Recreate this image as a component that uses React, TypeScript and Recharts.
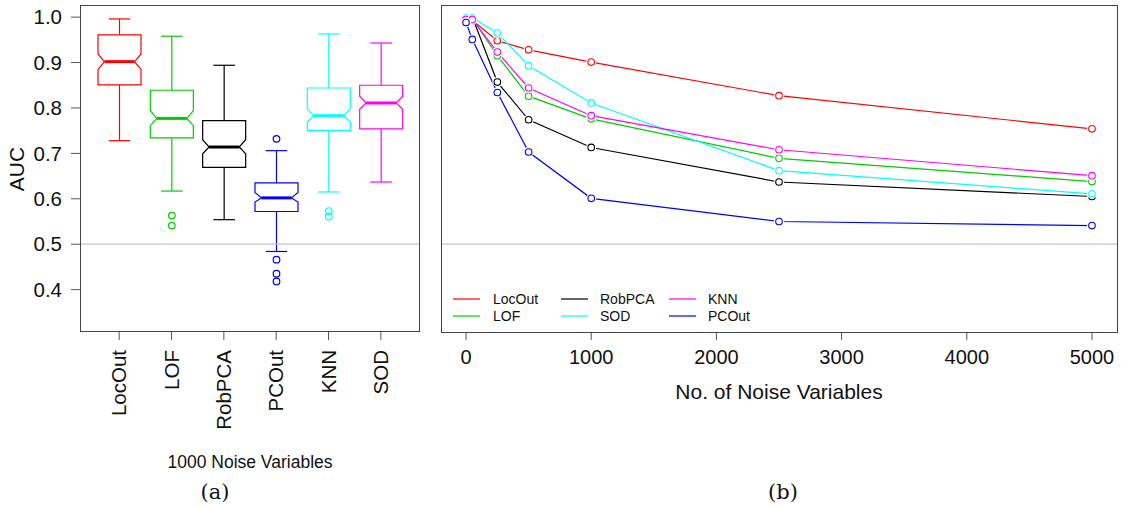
import { ComposedChart, Bar, XAxis, YAxis, ReferenceLine, LineChart, Line } from 'recharts';

const FONT = '"Liberation Sans", Arial, Helvetica, sans-serif';

// panel (a): boxplots at 1000 noise variables
const methods = ['LocOut', 'LOF', 'RobPCA', 'PCOut', 'KNN', 'SOD'];
const boxColors = ['#ff0000', '#00cd00', '#000000', '#0000ff', '#00ffff', '#ff00ff'];
const whiskerLow = [0.728, 0.617, 0.554, 0.484, 0.615, 0.637];
const q1 = [0.851, 0.734, 0.669, 0.572, 0.75, 0.754];
const notchLow = [0.885, 0.761, 0.699, 0.593, 0.769, 0.797];
const median = [0.902, 0.777, 0.714, 0.602, 0.783, 0.811];
const notchHigh = [0.919, 0.794, 0.73, 0.614, 0.798, 0.826];
const q3 = [0.961, 0.839, 0.772, 0.635, 0.844, 0.85];
const whiskerHigh = [0.996, 0.958, 0.894, 0.706, 0.963, 0.943];
const outliers: number[][] = [[], [0.563, 0.541], [], [0.732, 0.466, 0.435, 0.418], [0.573, 0.561], []];
const aucTicks = [0.4, 0.5, 0.6, 0.7, 0.8, 0.9, 1.0];

// panel (b): median AUC vs number of noise variables
const noiseVars = [0, 50, 250, 500, 1000, 2500, 5000];
const locOut = [0.995, 0.993, 0.948, 0.928, 0.901, 0.827, 0.754];
const lof = [0.997, 0.997, 0.915, 0.826, 0.776, 0.689, 0.638];
const robPca = [1.0, 1.0, 0.857, 0.774, 0.713, 0.637, 0.605];
const sod = [0.999, 0.999, 0.965, 0.893, 0.811, 0.662, 0.611];
const knn = [0.995, 0.995, 0.923, 0.844, 0.783, 0.708, 0.651];
const pcOut = [0.988, 0.951, 0.834, 0.703, 0.601, 0.55, 0.541];
const noiseTicks = [0, 1000, 2000, 3000, 4000, 5000];

const series = [
  { key: 'LocOut', color: '#ff0000', values: locOut },
  { key: 'LOF', color: '#00cd00', values: lof },
  { key: 'RobPCA', color: '#000000', values: robPca },
  { key: 'SOD', color: '#00ffff', values: sod },
  { key: 'KNN', color: '#ff00ff', values: knn },
  { key: 'PCOut', color: '#0000ff', values: pcOut },
];
const legendCols = [['LocOut', 'LOF'], ['RobPCA', 'SOD'], ['KNN', 'PCOut']];

const Y_DOMAIN: [number, number] = [0.3067, 1.0267];

const boxData = methods.map((name, i) => ({
  name,
  color: boxColors[i],
  wl: whiskerLow[i],
  q1: q1[i],
  nl: notchLow[i],
  med: median[i],
  nh: notchHigh[i],
  q3: q3[i],
  wh: whiskerHigh[i],
  out: outliers[i],
  range: [Math.min(whiskerLow[i], ...outliers[i]), Math.max(whiskerHigh[i], ...outliers[i])],
}));

const lineData = noiseVars.map((n, i) => {
  const row: Record<string, number> = { n };
  series.forEach((s) => (row[s.key] = s.values[i]));
  return row;
});

function BoxShape(props: any) {
  const { x, y, width, height, payload } = props;
  const [lo, hi] = payload.range;
  const top = Math.min(y, y + height);
  const h = Math.abs(height);
  const py = (v: number) => top + ((hi - v) / (hi - lo)) * h;
  const cx = x + width / 2;
  const half = width / 2;
  const inset = half * 0.7;
  const c = payload.color;
  const pts = [
    [cx - half, py(payload.q1)],
    [cx - half, py(payload.nl)],
    [cx - inset, py(payload.med)],
    [cx - half, py(payload.nh)],
    [cx - half, py(payload.q3)],
    [cx + half, py(payload.q3)],
    [cx + half, py(payload.nh)],
    [cx + inset, py(payload.med)],
    [cx + half, py(payload.nl)],
    [cx + half, py(payload.q1)],
  ]
    .map((p) => p.join(','))
    .join(' ');
  return (
    <g stroke={c} fill="none" strokeWidth={1.2}>
      <line x1={cx} x2={cx} y1={py(payload.q1)} y2={py(payload.wl)} />
      <line x1={cx} x2={cx} y1={py(payload.q3)} y2={py(payload.wh)} />
      <line x1={cx - half / 2} x2={cx + half / 2} y1={py(payload.wl)} y2={py(payload.wl)} />
      <line x1={cx - half / 2} x2={cx + half / 2} y1={py(payload.wh)} y2={py(payload.wh)} />
      <polygon points={pts} />
      <line x1={cx - inset} x2={cx + inset} y1={py(payload.med)} y2={py(payload.med)} strokeWidth={3} />
      {payload.out.map((v: number, k: number) => (
        <circle key={k} cx={cx} cy={py(v)} r={3.3} />
      ))}
    </g>
  );
}

function RotTick(props: any) {
  const { x, y, payload } = props;
  return (
    <text
      x={x}
      y={y}
      transform={`rotate(-90 ${x} ${y})`}
      textAnchor="end"
      dy="0.35em"
      fontSize={20.5}
      fill="#111"
      fontFamily={FONT}
    >
      {payload.value}
    </text>
  );
}

function makeDot(color: string) {
  return (p: any) => (
    <g key={`${color}-${p.index}`}>
      <circle cx={p.cx} cy={p.cy} r={5} fill="#fff" stroke="none" />
      <circle cx={p.cx} cy={p.cy} r={3.3} fill="none" stroke={color} strokeWidth={1.1} />
    </g>
  );
}

const abs = (left: number, top: number, extra: any = {}) => ({ position: 'absolute' as const, left, top, ...extra });

export default function App() {
  return (
    <div style={{ position: 'absolute', left: 0, top: 0, width: 1129, height: 508, background: '#fff', fontFamily: FONT, color: '#111' }}>
      <div style={abs(0, 0)}>
        <ComposedChart width={440} height={508} data={boxData} margin={{ top: 5, right: 20, bottom: 0, left: 0 }}>
          <XAxis
            dataKey="name"
            type="category"
            padding={{ left: 13, right: 13 }}
            height={176}
            axisLine={false}
            tickSize={8}
            tickMargin={10}
            tickLine={{ stroke: '#555' }}
            tick={<RotTick />}
            interval={0}
          />
          <YAxis
            type="number"
            domain={Y_DOMAIN}
            ticks={aucTicks}
            width={80}
            axisLine={false}
            tickSize={9}
            tickMargin={9}
            tickLine={{ stroke: '#555' }}
            tick={{ fontSize: 20.5, fill: '#111', fontFamily: FONT }}
            tickFormatter={(v: number) => v.toFixed(1)}
            allowDataOverflow
          />
          <ReferenceLine y={0.5} stroke="#c4c4c4" strokeWidth={1.2} />
          <Bar dataKey="range" barSize={43} shape={<BoxShape />} isAnimationActive={false} />
        </ComposedChart>
      </div>

      <div style={abs(440, 0)}>
        <LineChart width={689} height={508} data={lineData} margin={{ top: 5, right: 12, bottom: 0, left: 1 }}>
          <XAxis
            dataKey="n"
            type="number"
            domain={[-200, 5200]}
            ticks={noiseTicks}
            height={176}
            axisLine={false}
            tickSize={8}
            tickMargin={10}
            tickLine={{ stroke: '#555' }}
            tick={{ fontSize: 20, fill: '#111', fontFamily: FONT }}
            allowDataOverflow
          />
          <YAxis hide type="number" domain={Y_DOMAIN} allowDataOverflow />
          <ReferenceLine y={0.5} stroke="#c4c4c4" strokeWidth={1.2} />
          {series.map((s) => (
            <Line
              key={s.key}
              dataKey={s.key}
              type="linear"
              stroke={s.color}
              strokeWidth={1.2}
              dot={makeDot(s.color)}
              activeDot={false}
              isAnimationActive={false}
            />
          ))}
        </LineChart>
      </div>

      {/* frames */}
      <div style={abs(80, 5, { width: 340, height: 327, border: '1px solid #444', boxSizing: 'border-box' })} />
      <div style={abs(441, 5, { width: 677, height: 328, border: '1px solid #444', boxSizing: 'border-box' })} />

      {/* legend of panel (b) */}
      {legendCols.map((col, ci) =>
        col.map((name, ri) => {
          const s = series.find((q) => q.key === name)!;
          const lx = [453, 561, 669][ci];
          const tx = [493, 600, 708][ci];
          const cy = [299, 316][ri];
          return (
            <div key={name}>
              <div style={abs(lx, cy - 1, { width: 27, height: 2, background: s.color, opacity: 0.6 })} />
              <div style={abs(tx, cy - 9, { fontSize: 14, lineHeight: '18px', whiteSpace: 'nowrap' })}>{name}</div>
            </div>
          );
        })
      )}

      {/* axis titles and captions */}
      <div style={abs(17 - 40, 169 - 13, { width: 80, height: 26, lineHeight: '26px', fontSize: 21, textAlign: 'center', transform: 'rotate(-90deg)' })}>AUC</div>
      <div style={abs(250 - 120, 462 - 11, { width: 240, lineHeight: '22px', fontSize: 17.5, textAlign: 'center' })}>1000 Noise Variables</div>
      <div style={abs(779 - 160, 392 - 13, { width: 320, lineHeight: '26px', fontSize: 21, textAlign: 'center' })}>No. of Noise Variables</div>
      <div style={abs(215 - 30, 492 - 13, { width: 60, lineHeight: '26px', fontSize: 21, textAlign: 'center', fontFamily: '"DejaVu Serif", "Liberation Serif", serif' })}>(a)</div>
      <div style={abs(783 - 30, 492 - 13, { width: 60, lineHeight: '26px', fontSize: 21, textAlign: 'center', fontFamily: '"DejaVu Serif", "Liberation Serif", serif' })}>(b)</div>
    </div>
  );
}
